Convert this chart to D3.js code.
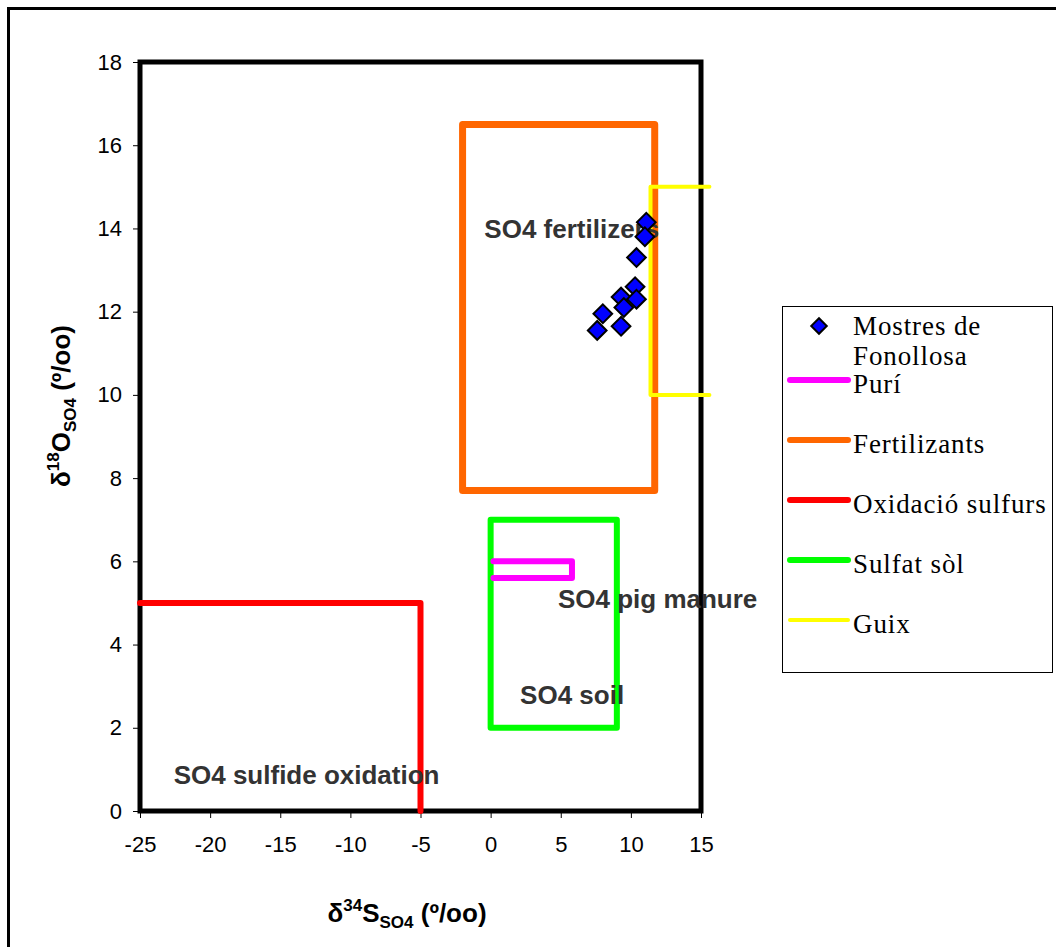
<!DOCTYPE html>
<html>
<head>
<meta charset="utf-8">
<script src="https://cdn.jsdelivr.net/npm/d3@7"></script>
<style>
  body { margin: 0; background: #fff; }
  .tick text { font-family: "Liberation Sans", Arial, sans-serif; font-size: 22px; fill: #000; }
  .axis-title { font-family: "Liberation Sans", Arial, sans-serif; font-weight: bold; font-size: 26px; }
  .zone-label { font-family: "Liberation Sans", Arial, sans-serif; font-weight: bold; font-size: 26px; fill: #333; }
  .legend text { font-family: "Liberation Serif", "Times New Roman", serif; font-size: 27px; letter-spacing: 0.9px; fill: #000; }
</style>
</head>
<body>
<div id="chart"></div>
<script>
/**
 * DATA
 * */
// samples: d34S and d18O of sulphate (Fonollosa)
const sampleS = [11.1, 11.0, 10.4, 10.3, 9.3, 10.4, 9.5, 8.0, 7.6, 9.3];
const sampleO = [14.15, 13.8, 13.3, 12.6, 12.35, 12.3, 12.1, 11.95, 11.55, 11.65];

// source fields, drawn as polylines [d34S, d18O]
const puri = [[0.2, 6.0], [5.8, 6.0], [5.8, 5.6], [0.2, 5.6]];
const fertilitzants = [[-2, 7.7], [-2, 16.5], [11.7, 16.5], [11.7, 7.7], [-2, 7.7]];
const oxidacio = [[-25, 5], [-5, 5], [-5, 0]];
const sulfatSol = [[0, 2], [0, 7], [9, 7], [9, 2], [0, 2]];
const guix = [[15.6, 15], [11.4, 15], [11.4, 10], [15.6, 10]];

const xTicks = [-25, -20, -15, -10, -5, 0, 5, 10, 15];
const yTicks = [0, 2, 4, 6, 8, 10, 12, 14, 16, 18];

const zoneLabels = ["SO4 fertilizers", "SO4 pig manure", "SO4 soil", "SO4 sulfide oxidation"];
const zoneLabelX = [-0.45, 4.8, 2.1, -22.6];
const zoneLabelY = [14.0, 5.1, 2.8, 0.87];

const legendNames = ["Purí", "Fertilizants", "Oxidació sulfurs", "Sulfat sòl", "Guix"];
const legendColors = ["#ff00ff", "#ff6600", "#ff0000", "#00ff00", "#ffff00"];

/**
 * CONSTANTS
 * */
const width = 1056, height = 947;
const margin = { top: 62, left: 140, right: 355, bottom: 136 };

const svg = d3.select("#chart").append("svg")
  .attr("width", width)
  .attr("height", height);

// outer chart frame (runs off the picture on right and bottom)
svg.append("rect")
  .attr("x", 8.5).attr("y", 8.5)
  .attr("width", 1100).attr("height", 1000)
  .attr("fill", "none").attr("stroke", "#000").attr("stroke-width", 3);

const xScale = d3.scaleLinear().domain([-25, 15]).range([margin.left, width - margin.right]);
const yScale = d3.scaleLinear().domain([0, 18]).range([height - margin.bottom, margin.top]);

// AXES
svg.append("g")
  .attr("transform", `translate(0,${yScale(0)})`)
  .call(d3.axisBottom(xScale).tickValues(xTicks).tickSize(7).tickPadding(18).tickFormat(d => String(d)))
  .call(g => g.select(".domain").remove())
  .call(g => g.selectAll(".tick line").attr("stroke", "#000"));

svg.append("g")
  .attr("transform", `translate(${xScale(-25)},0)`)
  .call(d3.axisLeft(yScale).tickValues(yTicks).tickSize(7).tickPadding(11).tickFormat(d => String(d)))
  .call(g => g.select(".domain").remove())
  .call(g => g.selectAll(".tick line").attr("stroke", "#000"));

// plot area frame
svg.append("rect")
  .attr("x", xScale(-25)).attr("y", yScale(18))
  .attr("width", xScale(15) - xScale(-25))
  .attr("height", yScale(0) - yScale(18))
  .attr("fill", "none").attr("stroke", "#000").attr("stroke-width", 5);

// axis titles
const xTitle = svg.append("text").attr("class", "axis-title")
  .attr("x", 407).attr("y", 922).attr("text-anchor", "middle");
xTitle.append("tspan").text("δ");
xTitle.append("tspan").attr("font-size", 17).attr("dy", -11).text("34");
xTitle.append("tspan").attr("dy", 11).text("S");
xTitle.append("tspan").attr("font-size", 17).attr("dy", 6).text("SO4");
xTitle.append("tspan").attr("dy", -6).text(" (º/oo)");

const yTitle = svg.append("text").attr("class", "axis-title")
  .attr("transform", "translate(70,406) rotate(-90)").attr("text-anchor", "middle");
yTitle.append("tspan").text("δ");
yTitle.append("tspan").attr("font-size", 17).attr("dy", -11).text("18");
yTitle.append("tspan").attr("dy", 11).text("O");
yTitle.append("tspan").attr("font-size", 17).attr("dy", 6).text("SO4");
yTitle.append("tspan").attr("dy", -6).text(" (º/oo)");

// FIELDS
const line = d3.line().x(d => xScale(d[0])).y(d => yScale(d[1]));
const fields = [
  { pts: fertilitzants, color: "#ff6600", w: 7 },
  { pts: sulfatSol, color: "#00ff00", w: 6 },
  { pts: oxidacio, color: "#ff0000", w: 6 },
  { pts: puri, color: "#ff00ff", w: 6 },
  { pts: guix, color: "#ffff00", w: 4 }
];
svg.selectAll(".field")
  .data(fields)
  .join("path")
  .attr("class", "field")
  .attr("d", d => line(d.pts))
  .attr("fill", "none")
  .attr("stroke", d => d.color)
  .attr("stroke-width", d => d.w)
  .attr("stroke-linejoin", "round")
  .attr("stroke-linecap", "round");

// zone labels
svg.selectAll(".zone-label")
  .data(zoneLabels)
  .join("text")
  .attr("class", "zone-label")
  .attr("x", (d, i) => xScale(zoneLabelX[i]))
  .attr("y", (d, i) => yScale(zoneLabelY[i]))
  .attr("dy", "0.35em")
  .text(d => d);

// SAMPLES
const diamond = d3.symbol().type(d3.symbolSquare).size(175);
svg.selectAll(".dot")
  .data(sampleS.map((s, i) => [s, sampleO[i]]))
  .join("path")
  .attr("class", "dot")
  .attr("d", diamond)
  .attr("transform", d => `translate(${xScale(d[0])},${yScale(d[1])}) rotate(45)`)
  .attr("fill", "#0000ff")
  .attr("stroke", "#000")
  .attr("stroke-width", 2);

// LEGEND
const legend = svg.append("g").attr("class", "legend");
legend.append("rect")
  .attr("x", 782.5).attr("y", 306.5).attr("width", 270).attr("height", 366)
  .attr("fill", "#fff").attr("stroke", "#000").attr("stroke-width", 1);

legend.append("path")
  .attr("d", d3.symbol().type(d3.symbolSquare).size(120))
  .attr("transform", "translate(819,326) rotate(45)")
  .attr("fill", "#0000ff").attr("stroke", "#000").attr("stroke-width", 2);
legend.append("text").attr("x", 853).attr("y", 335).text("Mostres de");
legend.append("text").attr("x", 853).attr("y", 365).text("Fonollosa");

legendNames.forEach((name, i) => {
  const y = 380 + i * 60;
  legend.append("line")
    .attr("x1", 790).attr("x2", 848).attr("y1", y).attr("y2", y)
    .attr("stroke", legendColors[i])
    .attr("stroke-width", i === 4 ? 4 : 6)
    .attr("stroke-linecap", "round");
  legend.append("text").attr("x", 853).attr("y", y + 13).text(name);
});
</script>
</body>
</html>
